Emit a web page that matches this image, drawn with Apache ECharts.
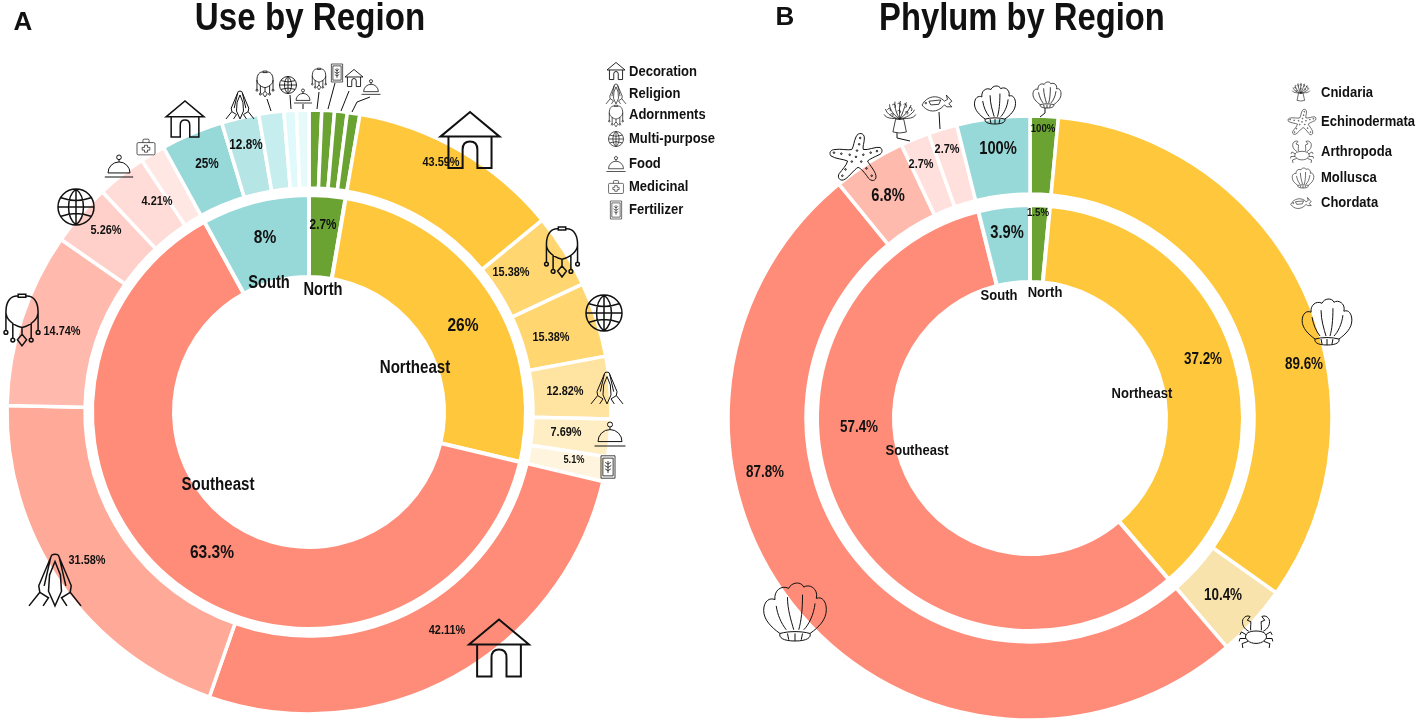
<!DOCTYPE html>
<html>
<head>
<meta charset="utf-8">
<title>Use and Phylum by Region</title>
<style>
  html, body { margin: 0; background: #fff; }
  #chart { width: 1417px; height: 723px; }
</style>
<script src="https://cdn.jsdelivr.net/npm/echarts@6/dist/echarts.min.js"></script>
</head>
<body>
<div id="chart"></div>
<script>
// region shares, inner rings
const regions = ['North', 'Northeast', 'Southeast', 'South'];
const useRegionValues = [2.7, 26, 63.3, 8];
const phylumRegionValues = [1.5, 37.2, 57.4, 3.9];

// share of each outer slice inside its region
const useNorth = [25, 25, 25, 25];
const useNortheast = [43.59, 15.38, 15.38, 12.82, 7.69, 5.1];
const useSoutheast = [42.11, 31.58, 14.74, 5.26, 4.21, 2.1];
const useSouth = [41.7, 25, 16.7, 8.3, 8.3];

const phylumNorth = [100];
const phylumNortheast = [89.6, 10.4];
const phylumSoutheast = [87.8, 6.8, 2.7, 2.7];
const phylumSouth = [100];

// printed labels
const useInnerText = ['2.7%', '26%', '63.3%', '8%'];
const phylumInnerText = ['1.5%', '37.2%', '57.4%', '3.9%'];
const useOuterText = [
  '', '', '', '',
  '43.59%', '15.38%', '15.38%', '12.82%', '7.69%', '5.1%',
  '42.11%', '31.58%', '14.74%', '5.26%', '4.21%', '',
  '25%', '12.8%', '', '', ''
];
const phylumOuterText = ['100%', '89.6%', '10.4%', '87.8%', '6.8%', '2.7%', '2.7%', '100%'];

const useLegend = ['Decoration', 'Religion', 'Adornments', 'Multi-purpose', 'Food', 'Medicinal', 'Fertilizer'];
const phylumLegend = ['Cnidaria', 'Echinodermata', 'Arthropoda', 'Mollusca', 'Chordata'];

const FONT = '"Liberation Sans", Arial, sans-serif';
const SQUEEZE = 0.84; // the source type is a condensed bold

// colours per ring slice
const regionColors = ['#6AA332', '#FFC73B', '#FF8C78', '#97D8D8'];
const useOuterColors = [
  '#6AA332', '#6AA332', '#6AA332', '#6AA332',
  '#FFC73B', '#FFD670', '#FFD670', '#FFE3A0', '#FFEEC4', '#FFF5DF',
  '#FF8C78', '#FFA999', '#FFB9AD', '#FFD0C9', '#FFDCD7', '#FFE7E4',
  '#97D8D8', '#B6E5E6', '#C7EEEE', '#E0F9FA', '#E6FAFA'
];
const phylumOuterColors = ['#6AA332', '#FFC73B', '#F9E3AC', '#FF8C78', '#FFBAAE', '#FFE0DC', '#FFE0DC', '#97D8D8'];

// label anchor points [x, y, fontSize]
const useInnerPos = [[323, 225, 14], [463, 326, 18.5], [212, 553, 18.5], [265, 238, 18.5]];
const useOuterPos = [
  null, null, null, null,
  [441, 162, 13], [511, 272, 13], [551, 337, 13], [565, 391, 13], [566, 432, 13], [574, 460, 11],
  [447, 630, 13], [87, 560, 13], [62, 331, 13], [106, 230, 13], [157, 201, 13], null,
  [207, 164, 14], [246, 145, 14], null, null, null
];
const phylumInnerPos = [[1038, 213, 11.5], [1203, 360, 16], [859, 428, 16], [1007, 233, 17.5]];
const phylumOuterPos = [
  [1043, 129, 11.5], [1304, 365, 16], [1223, 596, 16], [765, 473, 16],
  [888, 196, 17.5], [921, 164, 13], [947, 149, 13], [998, 149, 17.5]
];

function outerValues(parents, groups) {
  const out = [];
  groups.forEach(function (g, i) {
    const total = g.reduce(function (a, b) { return a + b; }, 0);
    g.forEach(function (v) { out.push(parents[i] * v / total); });
  });
  return out;
}

function ring(center, radius, values, colors, gap) {
  return {
    type: 'pie',
    center: center,
    radius: radius,
    startAngle: 90,
    clockwise: true,
    sort: null,
    silent: true,
    animation: false,
    itemStyle: { borderColor: '#fff', borderWidth: gap },
    label: { show: false },
    labelLine: { show: false },
    data: values.map(function (v, i) {
      return { value: v, itemStyle: { color: colors[i] } };
    })
  };
}

// line-art icons, each drawn in a 100 box
function circlePath(cx, cy, r) {
  return 'M' + (cx - r) + ' ' + cy + 'a' + r + ' ' + r + ' 0 1 0 ' + (2 * r) + ' 0a' + r + ' ' + r + ' 0 1 0 ' + (-2 * r) + ' 0Z';
}
const ICONS = {
  house: 'M2 45L50 5L98 45ZM15 45V96H38V66Q38 53 50 53Q62 53 62 66V96H85V45',
  hands: 'M44 3L20 60L22 72L2 97M56 3L80 60L78 72L98 97M44 3Q50 0 56 3M42 8L30 60M58 8L70 60M50 15L40 40L38 70L50 97L62 70L60 40ZM22 72L38 82L28 97M78 72L62 82L72 97',
  necklace: 'M40 8C22 6 8 20 8 50C8 66 24 84 50 90C76 84 92 66 92 50C92 20 78 6 60 8M40 3H60V11H40ZM8 50V98M26 78V118M50 90V108M74 78V118M92 50V98M50 108L62 122L50 138L38 122Z' + circlePath(8, 103, 5) + circlePath(26, 123, 5) + circlePath(74, 123, 5) + circlePath(92, 103, 5),
  globe: circlePath(50, 50, 47) + 'M3 50H97M50 3V97M50 3C24 24 24 76 50 97M50 3C76 24 76 76 50 97M11 26Q50 40 89 26M11 74Q50 60 89 74',
  food: 'M1 90H99M12 76A38 38 0 0 1 88 76ZM50 38V30' + circlePath(50, 22, 8),
  medkit: 'M10 28H90Q97 28 97 35V85Q97 92 90 92H10Q3 92 3 85V35Q3 28 10 28ZM34 28V16Q34 10 40 10H60Q66 10 66 16V28M42 42H58V53H70V67H58V78H42V67H30V53H42Z',
  fertilizer: 'M20 2H80V98H20ZM28 12H72V88H28ZM50 24V76M50 38L38 30M50 38L62 30M50 52L36 44M50 52L64 44M50 66L38 58M50 66L62 58',
  shell: 'M26 82C12 72 0 60 0 45C0 30 10 24 18 28C16 14 28 4 40 10C44 0 60 -2 64 8C72 2 88 10 84 26C94 22 100 32 100 44C100 60 88 72 74 82M20 38C22 52 28 66 36 76M38 24C38 44 44 62 48 76M62 20C62 44 60 62 56 76M82 34C80 52 72 68 64 76M26 82C24 88 30 94 50 94C70 94 76 88 74 82C60 78 40 78 26 82ZM38 82L40 92M50 82V94M62 82L60 92',
  star: 'M50 8C54 -2 66 0 66 10C66 20 62 26 64 32C72 34 88 26 96 28C102 32 100 40 94 42C86 46 76 50 72 54C76 62 90 76 88 86C86 94 76 92 72 84C66 76 60 68 54 66C46 70 34 88 26 90C18 92 14 84 18 78C24 70 32 62 34 54C26 50 10 50 2 44C-2 38 2 32 10 32C20 30 34 34 42 32C46 26 46 16 50 8Z' +
    circlePath(58, 10, 1.5) + circlePath(56, 22, 1.5) + circlePath(52, 34, 1.5) + circlePath(64, 42, 1.5) + circlePath(78, 38, 1.5) + circlePath(90, 35, 1.5) + circlePath(38, 42, 1.5) + circlePath(22, 40, 1.5) + circlePath(8, 38, 1.5) + circlePath(42, 55, 1.5) + circlePath(30, 70, 1.5) + circlePath(24, 82, 1.5) + circlePath(60, 55, 1.5) + circlePath(70, 68, 1.5) + circlePath(80, 82, 1.5) + circlePath(50, 46, 1.5),
  anemone: 'M30 96L38 58H62L70 96Q50 102 30 96ZM50 58C32 54 12 44 8 28M50 58C36 48 20 32 20 14M50 58C42 44 34 24 36 6M50 58C50 42 48 20 52 4M50 58C58 44 64 22 70 8M50 58C64 48 78 32 84 16M50 58C68 54 88 44 94 30M40 56C28 56 10 56 4 44M60 56C74 56 92 56 98 44M14 30C18 22 24 26 22 34M28 16C34 10 40 16 36 24M44 12C50 8 56 12 52 20M62 14C68 10 74 16 68 24M78 24C84 20 90 26 84 34M22 44C28 38 34 44 28 50M44 34C50 28 56 34 50 40M66 38C72 32 78 38 72 44',
  fish: 'M2 42C16 14 52 6 74 30L84 24L80 10L98 30L88 38L98 48L82 48L74 42C50 70 18 66 2 42ZM24 30L62 26L56 40L30 42Z' + circlePath(14, 36, 2.5),
  crab: 'M28 50C40 44 60 44 72 50C82 58 80 66 72 72C62 82 38 82 28 72C20 66 18 58 28 50ZM30 46C18 40 10 28 14 14C18 6 26 2 34 6L26 16L36 20C36 30 34 40 36 44M70 46C82 40 90 28 86 14C82 6 74 2 66 6L74 16L64 20C64 30 66 40 64 44M24 56L10 48L6 56M22 66L6 66L4 74M28 74L12 80L14 92M76 56L90 48L94 56M78 66L94 66L96 74M72 74L88 80L86 92'
};

// icon placements [icon, x, y, w, h, lineWidth]
const iconPlaces = [
  ['house', 470, 140, 60, 56, 2], ['necklace', 562, 252, 36, 50, 1.5], ['globe', 604, 313, 36, 36, 1.5],
  ['hands', 607, 388, 32, 38, 1], ['food', 610, 434, 32, 24, 1], ['fertilizer', 608, 467, 14, 26, 0.8],
  ['house', 499, 648, 60, 58, 2], ['hands', 55, 580, 52, 58, 1.5], ['necklace', 22, 320, 36, 52, 1.5],
  ['globe', 76, 207, 36, 36, 1.5], ['food', 119, 166, 30, 22, 1], ['medkit', 146, 147, 18, 16, 0.7],
  ['house', 185, 119, 38, 36, 1.5], ['hands', 240, 105, 28, 30, 1],
  ['necklace', 265, 84, 18, 28, 0.9], ['globe', 288, 85, 17, 17, 0.9], ['food', 303, 96, 19, 14, 0.8],
  ['necklace', 319, 79, 15, 24, 0.8], ['fertilizer', 337, 73, 12, 18, 0.7], ['house', 354, 78, 18, 18, 0.9], ['food', 371, 87, 19, 15, 0.8],
  // phylum
  ['star', 856, 157, 52, 47, 1], ['anemone', 900, 117, 38, 32, 0.8], ['fish', 937, 103, 38, 16, 0.8],
  ['shell', 995, 105, 46, 38, 1], ['shell', 1047, 95, 32, 26, 0.8], ['shell', 1327, 322, 55, 46, 1],
  ['crab', 1256, 632, 40, 32, 1], ['shell', 795, 612, 70, 58, 1],
  // legends
  ['house', 616, 71, 18, 18, 0.9], ['hands', 616, 94, 20, 24, 0.7], ['necklace', 616, 116, 15, 24, 0.7],
  ['globe', 616, 139, 15, 15, 0.7], ['food', 616, 164, 24, 15, 0.7], ['medkit', 616, 187, 17, 13, 0.6], ['fertilizer', 616, 210, 12, 18, 0.6],
  ['anemone', 1301, 92, 22, 18, 0.6], ['star', 1302, 122, 28, 26, 0.6], ['crab', 1302, 152, 24, 22, 0.6],
  ['shell', 1303, 178, 24, 20, 0.6], ['fish', 1301, 203, 26, 11, 0.6]
];

// thin leader lines from small icons to their slices
const leaderLines = [
  [[267, 99], [271, 111]], [[290, 95], [291, 109]], [[303, 104], [303, 109]], [[319, 92], [317, 109]],
  [[335, 83], [328, 109]], [[349, 91], [341, 111]], [[370, 97], [357, 102], [352, 112]],
  [[897, 133], [897, 138], [910, 141]], [[939, 112], [940, 129]], [[1045, 108], [1045, 113], [1040, 117]]
];

// text anchors
const useNamePos = [[323, 290, 17.5], [415, 368, 18], [218, 485, 18], [269, 283, 17.5]];
const phylumNamePos = [[1045, 293, 15.5], [1142, 394, 15.5], [917, 451, 15.5], [999, 296, 15.5]];
const useLegendY = [72, 94, 115, 139, 164, 187, 210];
const phylumLegendY = [93, 122, 152, 178, 203];

function textEl(txt, x, y, size, align, squeeze) {
  return {
    type: 'text', x: x, y: y, z: 100, silent: true,
    scaleX: squeeze || SQUEEZE,
    style: {
      text: txt, fill: '#111', fontWeight: 'bold', fontSize: size,
      fontFamily: FONT, textAlign: align || 'center', textVerticalAlign: 'middle'
    }
  };
}

const texts = [
  textEl('A', 23, 23, 26, 'center', 1),
  textEl('B', 785, 18, 26, 'center', 1),
  textEl('Use by Region', 310, 19, 39, 'center', 0.85),
  textEl('Phylum by Region', 1022, 19, 39, 'center', 0.84)
];
function pushLabels(list, posList) {
  list.forEach(function (txt, i) {
    if (txt) texts.push(textEl(txt, posList[i][0], posList[i][1], posList[i][2]));
  });
}
pushLabels(useInnerText, useInnerPos);
pushLabels(useOuterText, useOuterPos);
pushLabels(phylumInnerText, phylumInnerPos);
pushLabels(phylumOuterText, phylumOuterPos);
pushLabels(regions, useNamePos);
pushLabels(regions, phylumNamePos);
useLegend.forEach(function (name, i) { texts.push(textEl(name, 629, useLegendY[i], 15.5, 'left')); });
phylumLegend.forEach(function (name, i) { texts.push(textEl(name, 1321, phylumLegendY[i], 15.5, 'left')); });

const useOuter = outerValues(useRegionValues, [useNorth, useNortheast, useSoutheast, useSouth]);
const phylumOuter = outerValues(phylumRegionValues, [phylumNorth, phylumNortheast, phylumSoutheast, phylumSouth]);

const option = {
  backgroundColor: '#fff',
  animation: false,
  graphic: { elements: texts },
  series: [
    ring([309, 412], [135, 217], useRegionValues, regionColors, 4),
    ring([309, 412], [224, 302], useOuter, useOuterColors, 3.5),
    ring([1030, 418], [136, 213], phylumRegionValues, regionColors, 4),
    ring([1030, 418], [224, 302], phylumOuter, phylumOuterColors, 3.5),
    {
      type: 'custom',
      coordinateSystem: 'none',
      silent: true,
      z: 10,
      data: iconPlaces.map(function (d, i) { return i; }),
      renderItem: function (params) {
        const p = iconPlaces[params.dataIndex];
        return {
          type: 'path',
          shape: { pathData: ICONS[p[0]], x: p[1] - p[3] / 2, y: p[2] - p[4] / 2, width: p[3], height: p[4] },
          style: { fill: 'none', stroke: '#111', lineWidth: p[5] }
        };
      }
    },
    {
      type: 'custom',
      coordinateSystem: 'none',
      silent: true,
      z: 9,
      data: leaderLines.map(function (d, i) { return i; }),
      renderItem: function (params) {
        return {
          type: 'polyline',
          shape: { points: leaderLines[params.dataIndex] },
          style: { fill: 'none', stroke: '#111', lineWidth: 1 }
        };
      }
    }
  ]
};

const chart = echarts.init(document.getElementById('chart'));
chart.setOption(option);
</script>
</body>
</html>
